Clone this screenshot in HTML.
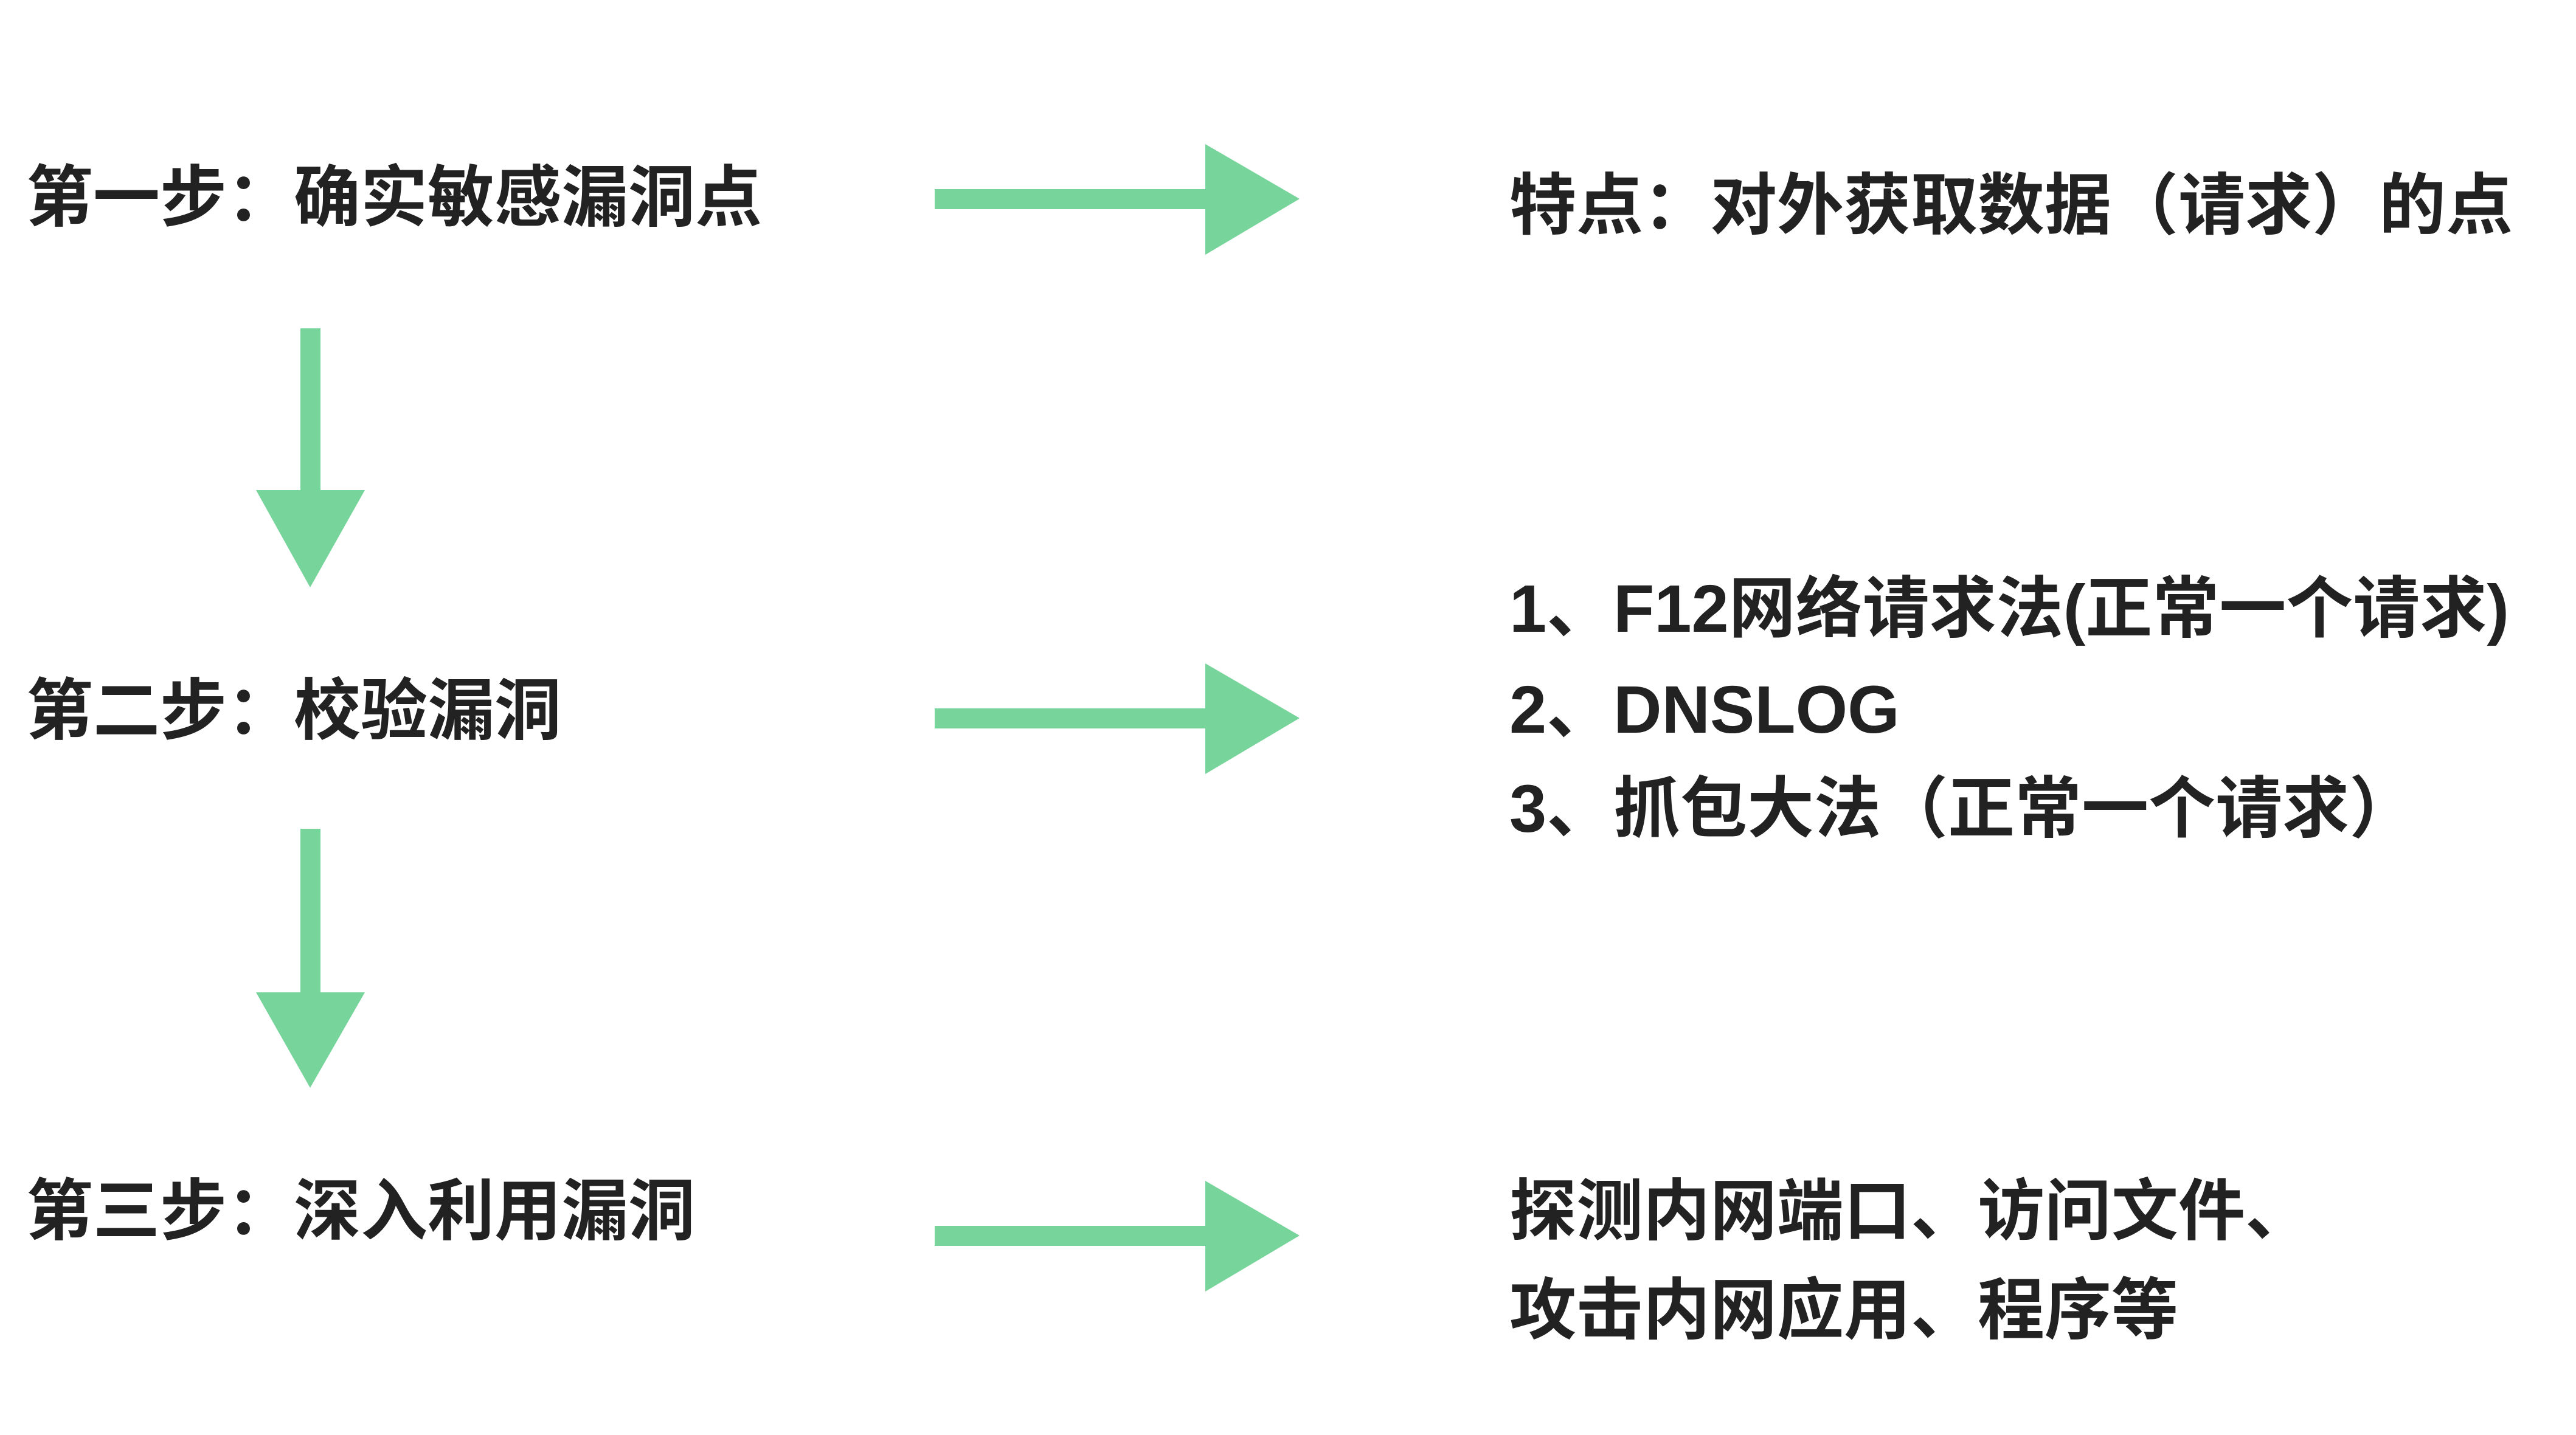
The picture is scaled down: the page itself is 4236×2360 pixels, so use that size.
<!DOCTYPE html>
<html><head><meta charset="utf-8"><style>
html,body{margin:0;padding:0;background:#fff;}
body{width:4236px;height:2360px;position:relative;overflow:hidden;}
.t{position:absolute;font-family:"Liberation Sans","Noto Sans CJK SC",sans-serif;font-weight:bold;font-size:110px;line-height:1;color:#222;white-space:nowrap;}
svg{position:absolute;left:0;top:0;}
</style></head><body>
<svg width="4236" height="2360" viewBox="0 0 4236 2360">
<g fill="#77d49a">
<rect x="1537" y="311" width="455" height="33"/><polygon points="1982,237 2137,327 1982,419"/>
<rect x="1537" y="1165" width="455" height="33"/><polygon points="1982,1091 2137,1181 1982,1273"/>
<rect x="1537" y="2016" width="455" height="33"/><polygon points="1982,1942 2137,2032 1982,2124"/>
<rect x="494" y="540" width="33" height="275"/><polygon points="421,806 600,806 510,966"/>
<rect x="494" y="1363" width="33" height="275"/><polygon points="421,1632 600,1632 510,1789"/>
</g>
</svg>
<div class="t" style="left:43px;top:271px">第一步：确实敏感漏洞点</div>
<div class="t" style="left:43px;top:1115px">第二步：校验漏洞</div>
<div class="t" style="left:43px;top:1938px">第三步：深入利用漏洞</div>
<div class="t" style="left:2482px;top:284px">特点：对外获取数据（请求）的点</div>
<div class="t" style="left:2482px;top:947px">1、F12网络请求法(正常一个请求)</div>
<div class="t" style="left:2482px;top:1113px">2、DNSLOG</div>
<div class="t" style="left:2482px;top:1276px">3、抓包大法（正常一个请求）</div>
<div class="t" style="left:2482px;top:1938px">探测内网端口、访问文件、</div>
<div class="t" style="left:2482px;top:2101px">攻击内网应用、程序等</div>
</body></html>
